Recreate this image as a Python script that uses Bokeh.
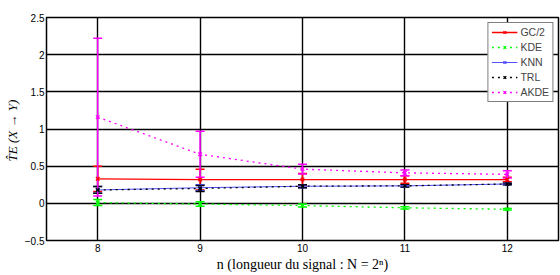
from bokeh.plotting import figure
from bokeh.models import Whisker, ColumnDataSource, Legend, LegendItem, FixedTicker, Range1d
from bokeh.embed import file_html
from bokeh.resources import INLINE

n = [8, 9, 10, 11, 12]
gc = [0.33, 0.32, 0.32, 0.32, 0.32]
gc_err = [0.17, 0.14, 0.08, 0.05, 0.03]
kde = [0.01, -0.01, -0.03, -0.06, -0.08]
kde_err = [0.04, 0.03, 0.02, 0.015, 0.01]
knn = [0.18, 0.21, 0.23, 0.235, 0.26]
knn_err = [0.045, 0.04, 0.02, 0.015, 0.01]
trl = [0.18, 0.20, 0.23, 0.235, 0.26]
trl_err = [0.045, 0.04, 0.02, 0.015, 0.01]
akde = [1.16, 0.66, 0.46, 0.41, 0.39]
akde_err = [1.06, 0.31, 0.065, 0.04, 0.05]
names = ["GC/2", "KDE", "KNN", "TRL", "AKDE"]
x_ticks = [8, 9, 10, 11, 12]
y_ticks = [-0.5, 0, 0.5, 1, 1.5, 2, 2.5]

series = [
    (names[0], gc, gc_err, "#ff0000", "solid", 1.3),
    (names[1], kde, kde_err, "#00ff00", "dotted", 1.3),
    (names[2], knn, knn_err, "#5050ff", "solid", 1.0),
    (names[3], trl, trl_err, "#000000", "dotted", 1.3),
    (names[4], akde, akde_err, "#ff00ff", "dotted", 1.3),
]

p = figure(width=560, height=275, output_backend="svg", toolbar_location=None,
           x_range=Range1d(7.5, 12.5), y_range=Range1d(-0.5, 2.5),
           min_border_left=46, min_border_right=2, min_border_top=17, min_border_bottom=35)
p.outline_line_color = "black"
p.outline_line_width = 1.5
p.background_fill_color = "white"
p.border_fill_color = "white"

for ax in (p.xaxis[0], p.yaxis[0]):
    ax.axis_line_color = "black"
    ax.major_tick_in = 4
    ax.major_tick_out = 0
    ax.minor_tick_in = 0
    ax.minor_tick_out = 0
    ax.major_label_text_font = "Liberation Sans"
    ax.major_label_text_font_size = "10px"
    ax.major_label_text_color = "black"
    ax.axis_label_text_font = "Liberation Serif"
    ax.axis_label_text_color = "black"
    ax.axis_label_text_font_size = "13px"

p.xaxis.ticker = FixedTicker(ticks=x_ticks)
p.yaxis.ticker = FixedTicker(ticks=y_ticks)
p.xaxis.major_label_standoff = 3
p.yaxis.major_label_standoff = 2
p.xaxis.axis_label = "n (longueur du signal : N = 2ⁿ)"
p.xaxis.axis_label_text_font_style = "normal"
p.xaxis.axis_label_text_font_size = "14px"
p.xaxis.axis_label_standoff = 2
p.yaxis.axis_label = "T̂E  (X → Y)"
p.yaxis.axis_label_text_font_style = "italic"
p.yaxis.axis_label_standoff = 2

for g in (p.xgrid[0], p.ygrid[0]):
    g.grid_line_color = "black"
    g.grid_line_width = 1.4
    g.grid_line_alpha = 1.0

items = []
for name, vals, errs, col, dash, lw in series:
    src = ColumnDataSource(dict(x=n, y=vals,
                                lo=[v - e for v, e in zip(vals, errs)],
                                hi=[v + e for v, e in zip(vals, errs)]))
    w = Whisker(source=src, base="x", lower="lo", upper="hi",
                line_color=col, line_width=1.5)
    w.upper_head.line_color = col
    w.lower_head.line_color = col
    w.upper_head.size = 9
    w.lower_head.size = 9
    w.upper_head.line_width = 1.5
    w.lower_head.line_width = 1.5
    p.add_layout(w)
    lr = p.line("x", "y", source=src, line_color=col, line_width=lw, line_dash=dash)
    sr = p.scatter("x", "y", source=src, marker="x", size=5, line_color=col, line_width=1.3)
    items.append(LegendItem(label=name, renderers=[lr, sr]))

legend = Legend(items=items, location="top_right")
legend.border_line_color = "black"
legend.border_line_width = 1.5
legend.label_text_font = "Liberation Sans"
legend.label_text_font_size = "10.5px"
legend.label_height = 10
legend.glyph_height = 10
legend.glyph_width = 26
legend.spacing = 3
legend.padding = 3
legend.margin = 5
legend.label_standoff = 3
legend.background_fill_alpha = 1.0
p.add_layout(legend)

open("out.html", "w").write(file_html(p, INLINE))
